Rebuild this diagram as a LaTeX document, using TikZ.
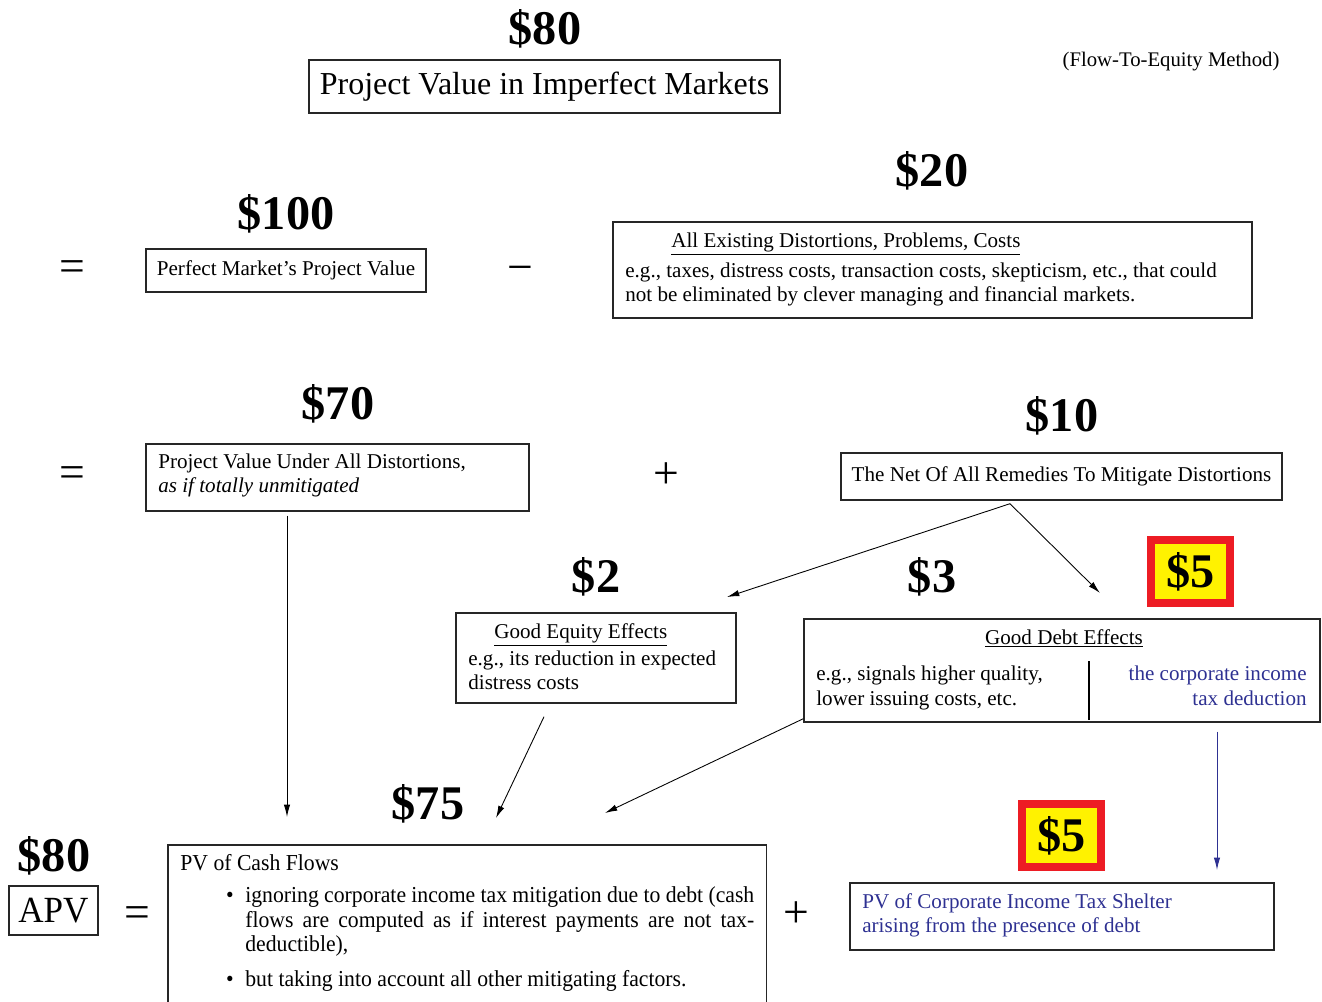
\documentclass[tikz,border=0pt]{standalone}
\usepackage{fontspec}
\setmainfont{Liberation Serif}
\newfontfamily\narrowfont[FakeStretch=0.95]{Liberation Serif}
\usepackage{xcolor}
\usetikzlibrary{arrows.meta}

\definecolor{taxblue}{RGB}{46,49,146}
\definecolor{hiyellow}{RGB}{255,242,0}
\definecolor{hired}{RGB}{237,28,36}

\tikzset{
    box/.style={draw=black!85, line width=0.8pt, inner sep=0pt},
    amount/.style={font=\fontsize{27.5}{30}\selectfont\bfseries, inner sep=0pt},
    hilite/.style={amount, fill=hiyellow, draw=hired, line width=4.5pt, minimum width=1.58cm, minimum height=1.26cm},
    body/.style={font=\fontsize{12}{14}\selectfont, inner sep=0pt, anchor=base west},
    narrow/.style={font=\narrowfont\fontsize{13}{14.2}\selectfont, inner sep=0pt, anchor=base west},
    op/.style={font=\fontsize{26}{26}\selectfont, inner sep=0pt},
    arr/.style={-{Latex[length=7pt,width=3.6pt]}, line width=0.5pt},
}

\begin{document}
\begin{tikzpicture}[x=0.02cm, y=-0.02cm]
        \useasboundingbox (0,0) rectangle (1322,1001);

        \node[amount] (v80) at (545,29) {\$80};
        \node[box, minimum width=9.42cm, minimum height=1.06cm, font=\fontsize{18.2}{20}\selectfont] (title) at (544.5,86.5) {Project Value in Imperfect Markets};
        \node[font=\fontsize{11.8}{14}\selectfont, inner sep=0pt] (method) at (1171,62) {(Flow-To-Equity Method)};

        \node[op] (eq1) at (72,271) {=};
        \node[amount] (v100) at (286,214) {\$100};
        \node[box, minimum width=5.6cm, minimum height=0.86cm, font=\fontsize{12}{14}\selectfont] (perfect) at (286,270.5) {Perfect Market’s Project Value};
        \node[op] (minus) at (520,274) {−};
        \node[amount] (v20) at (932,171) {\$20};
        \node[box, minimum width=12.78cm, minimum height=1.92cm] (distort) at (932.5,270) {};
        \node[body] (distorthead) at (671,247) {\underline{All Existing Distortions, Problems, Costs}};
        \node[body] (distortA) at (625,277) {e.g., taxes, distress costs, transaction costs, skepticism, etc., that could};
        \node[body] (distortB) at (625,301) {not be eliminated by clever managing and financial markets.};

        \node[op] (eq2) at (72,477) {=};
        \node[amount] (v70) at (338,404) {\$70};
        \node[box, minimum width=7.66cm, minimum height=1.34cm] (unmit) at (337.5,477.5) {};
        \node[body] (unmitA) at (158,468) {Project Value Under All Distortions,};
        \node[body] (unmitB) at (158,492) {\itshape as if totally unmitigated};
        \node[op] (plus1) at (666,476) {+};
        \node[amount] (v10) at (1062,416) {\$10};
        \node[box, minimum width=8.82cm, minimum height=0.94cm, font=\fontsize{12}{14}\selectfont] (remedy) at (1061.5,476.5) {The Net Of All Remedies To Mitigate Distortions};

        \node[amount] (v2) at (596,577) {\$2};
        \node[box, minimum width=5.6cm, minimum height=1.8cm] (equity) at (596,658) {};
        \node[body] (equityhead) at (494,638) {\underline{Good Equity Effects}};
        \node[body] (equityA) at (468,665) {e.g., its reduction in expected};
        \node[body] (equityB) at (468,689) {distress costs};
        \node[amount] (v3) at (932,577) {\$3};
        \node[hilite] (v5a) at (1190.5,571.5) {\$5};
        \node[box, minimum width=10.32cm, minimum height=2.06cm] (debt) at (1062,670.5) {};
        \node[body, anchor=base] (debthead) at (1064,644) {\underline{Good Debt Effects}};
        \node[body] (debtA) at (816,680) {e.g., signals higher quality,};
        \node[body] (debtB) at (816,705) {lower issuing costs, etc.};
        \node[body, anchor=base east, text=taxblue] (debtC) at (1307,680) {the corporate income};
        \node[body, anchor=base east, text=taxblue] (debtD) at (1307,705) {tax deduction};
        \draw[line width=1pt] (1089,661) -- (1089,720);

        \node[amount] (v80b) at (54,856) {\$80};
        \node[box, minimum width=1.78cm, minimum height=0.98cm, font=\narrowfont\fontsize{21}{24}\selectfont] (apv) at (53.5,910.5) {APV};
        \node[op] (eq3) at (137,917) {=};
        \node[amount] (v75) at (428,804) {\$75};
        \node[inner sep=0pt, minimum width=11.96cm, minimum height=3.12cm, anchor=north west] (pv) at (168,845) {};
        \draw[line width=0.8pt, black!85] (pv.south west) -- (pv.north west) -- (pv.north east) -- (pv.south east);
        \node[narrow] (pvhead) at (180,870) {PV of Cash Flows};
        \node[narrow, anchor=base] (dotA) at (230,902) {\textbullet};
        \node[narrow] (pvA) at (245,902) {\makebox[10.18cm][s]{ignoring corporate income tax mitigation due to debt (cash}};
        \node[narrow] (pvB) at (245,927) {\makebox[10.18cm][s]{flows are computed as if interest payments are not tax-}};
        \node[narrow] (pvC) at (245,951) {deductible),};
        \node[narrow, anchor=base] (dotB) at (230,986) {\textbullet};
        \node[narrow] (pvD) at (245,986) {but taking into account all other mitigating factors.};

        \node[op] (plus2) at (796,915) {+};
        \node[hilite] (v5b) at (1061.5,835.5) {\$5};
        \node[box, minimum width=8.48cm, minimum height=1.34cm] (shield) at (1062,916.5) {};
        \node[body, text=taxblue] (shieldA) at (862,908) {PV of Corporate Income Tax Shelter};
        \node[body, text=taxblue] (shieldB) at (862,932) {arising from the presence of debt};

        \coordinate (toequity) at (727,597);
        \coordinate (todebt) at (1100,593);
        \coordinate (fromrest) at (287,817);
        \coordinate (fromeq) at (496,818);
        \coordinate (fromdebt) at (605,813);
        \coordinate (totax) at (1217,870);

        \draw[arr] ([shift={(-51.5,3)}]remedy.south) -- (toequity);
        \draw[arr] ([shift={(-51.5,3)}]remedy.south) -- (todebt);
        \draw[arr] ([shift={(-50.5,4)}]unmit.south) -- (fromrest);
        \draw[arr] ([shift={(-52,13)}]equity.south) -- (fromeq);
        \draw[arr] ([shift={(0,-4)}]debt.south west) -- (fromdebt);
        \draw[arr, taxblue] ([shift={(155,9)}]debt.south) -- (totax);
    \end{tikzpicture}
\end{document}
